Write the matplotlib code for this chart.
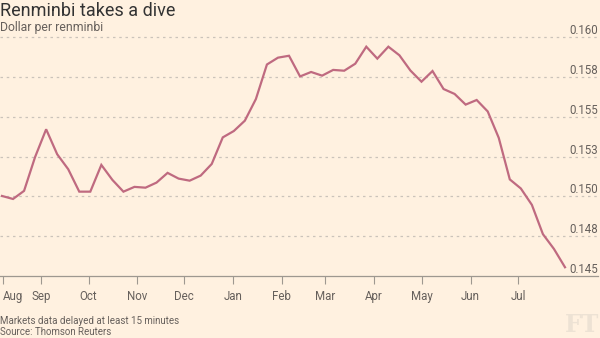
import numpy as np
import matplotlib
matplotlib.use('Agg')
import matplotlib.pyplot as plt

# Dollar per renminbi, one value per week
rates = [0.15003, 0.14984, 0.15035, 0.15248, 0.15422, 0.15265, 0.15171, 0.15030,
         0.15030, 0.15198, 0.15104, 0.15030, 0.15060, 0.15055, 0.15087, 0.15148,
         0.15112, 0.15099, 0.15131, 0.15204, 0.15371, 0.15411, 0.15476, 0.15612,
         0.15829, 0.15872, 0.15884, 0.15754, 0.15782, 0.15759, 0.15795, 0.15790,
         0.15834, 0.15941, 0.15866, 0.15941, 0.15887, 0.15791, 0.15721, 0.15788,
         0.15675, 0.15644, 0.15577, 0.15606, 0.15534, 0.15368, 0.15107, 0.15050,
         0.14947, 0.14763, 0.14670, 0.14555]
months = ['Aug', 'Sep', 'Oct', 'Nov', 'Dec', 'Jan', 'Feb', 'Mar', 'Apr', 'May', 'Jun', 'Jul']
# month starts, in weeks from the first point
month_pos = [0.09, 3.53, 7.84, 12.26, 16.52, 20.9, 25.34, 29.28, 33.7, 38.03, 42.45, 46.74]
y_ticks = [0.145, 0.1475, 0.150, 0.1525, 0.155, 0.1575, 0.160]
y_labels = ['0.145', '0.148', '0.150', '0.153', '0.155', '0.158', '0.160']

bg = '#fff1e0'
grey = '#66605c'

W, H = 600, 338
fig = plt.figure(figsize=(W / 100, H / 100), dpi=100)
fig.patch.set_facecolor(bg)

# axes: x 0..598 px, y from 276 px (0.145) up to 20 px
ax = fig.add_axes([0, 1 - 276 / H, 598 / W, (276 - 20) / H])
ax.set_facecolor(bg)
ax.set_xlim(-0.18, 53.99)
ax.set_ylim(0.145, 0.160 + 17.3 * 0.0025 / 39.8)

x = np.arange(len(rates))
ax.plot(x, rates, color='#bf6a80', lw=1.6, solid_joinstyle='miter', zorder=3)

for s in ['top', 'right', 'left']:
    ax.spines[s].set_visible(False)
ax.spines['bottom'].set_color('#9e9890')
ax.spines['bottom'].set_linewidth(0.9)

for yv in y_ticks[1:]:
    ax.axhline(yv, color='#cbc3ba', lw=0.9, ls=(0, (2, 3)), zorder=1)
ax.set_yticks([])
for yv, lab in zip(y_ticks, y_labels):
    ax.text(1.0, yv, lab, transform=ax.get_yaxis_transform(), ha='right', va='bottom',
            fontsize=8.3, color=grey, fontfamily='Roboto')

ax.set_xticks(month_pos)
ax.set_xticklabels(months, fontsize=8.3, color=grey, fontfamily='Roboto')
ax.tick_params(axis='x', length=6, width=0.8, color='#9e9890', pad=4)
ax.get_xticklabels()[0].set_horizontalalignment('left')

fig.text(0.0, 1 - 2 / H, 'Renminbi takes a dive', ha='left', va='top',
         fontsize=13, color='#333333', fontfamily='Roboto')
fig.text(0.0, 1 - 21 / H, 'Dollar per renminbi', ha='left', va='top',
         fontsize=8.8, color=grey, fontfamily='Roboto')
fig.text(0.0, 1 - 316 / H, 'Markets data delayed at least 15 minutes', ha='left', va='top',
         fontsize=7, color=grey, fontfamily='Roboto')
fig.text(0.0, 1 - 327 / H, 'Source: Thomson Reuters', ha='left', va='top',
         fontsize=7, color=grey, fontfamily='Roboto')
fig.text(1 - 1 / W, 1 / H, 'FT', ha='right', va='bottom', fontsize=17, fontweight='bold',
         color='#ede2d4', fontfamily='DejaVu Serif')

fig.savefig('out.png', dpi=100, facecolor=bg)
